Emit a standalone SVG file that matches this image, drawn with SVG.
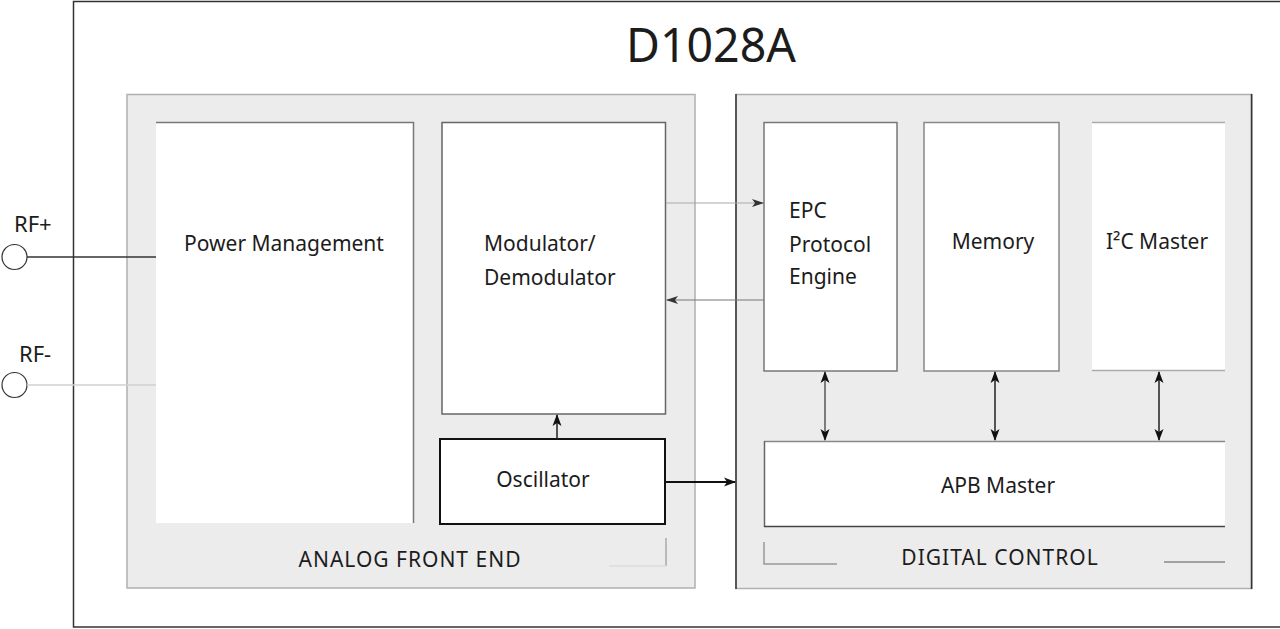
<svg xmlns="http://www.w3.org/2000/svg" width="1280" height="629" viewBox="0 0 1280 629">
<style>
.t{font-family:"Noto Sans","Open Sans","DejaVu Sans",sans-serif;fill:#1c1c1c;font-size:21px}
.c{text-anchor:middle}
.grp{fill:#ececec;stroke:#b0b0b0;stroke-width:1.5}
.blk{fill:#ffffff}
.wire{fill:none}
</style>
<defs>
<marker id="ah" markerWidth="12" markerHeight="12" refX="11" refY="6" orient="auto-start-reverse" markerUnits="userSpaceOnUse">
<path d="M0,1.5 L12,6 L0,10.5 L3,6 Z" fill="#111"/>
</marker>
<marker id="ahg" markerWidth="12" markerHeight="12" refX="11" refY="6" orient="auto" markerUnits="userSpaceOnUse">
<path d="M0,2 L12,6 L0,10 L3,6 Z" fill="#333"/>
</marker>
</defs>
<rect width="1280" height="629" fill="#ffffff"/>

<g id="chip">
<rect x="73.5" y="1.5" width="1212" height="625.5" fill="none" stroke="#333" stroke-width="1.5"/>
<text class="t c" x="711" y="62" style="font-size:48px" textLength="170" lengthAdjust="spacingAndGlyphs">D1028A</text>
</g>

<g id="analog-front-end">
<rect class="grp" x="127" y="94.5" width="568" height="493.5"/>
<line x1="666" y1="538" x2="666" y2="566" stroke="#aaa" stroke-width="1.5"/>
<line x1="609" y1="566" x2="666" y2="566" stroke="#ddd" stroke-width="1.5"/>
<text class="t c" x="410" y="567" style="letter-spacing:1px">ANALOG FRONT END</text>
</g>

<g id="digital-control">
<rect class="grp" x="736" y="94.5" width="516" height="494"/>
<line x1="736" y1="94" x2="736" y2="589" stroke="#333" stroke-width="1.5"/>
<line x1="1251.5" y1="94" x2="1251.5" y2="589" stroke="#333" stroke-width="1.5"/>
<polyline points="764,542 764,564 837,564" fill="none" stroke="#999" stroke-width="1.5"/>
<line x1="1164" y1="562" x2="1225" y2="562" stroke="#888" stroke-width="1.5"/>
<text class="t c" x="1000" y="565" style="letter-spacing:1px">DIGITAL CONTROL</text>
</g>

<g id="power-management">
<rect class="blk" x="156" y="122" width="258" height="401"/>
<polyline points="156,122.5 413.5,122.5 413.5,523" fill="none" stroke="#777" stroke-width="1.5"/>
<text class="t c" x="284" y="251">Power Management</text>
</g>

<g id="modulator">
<rect class="blk" x="442" y="122.5" width="223.5" height="291.5" stroke="#666" stroke-width="1.5"/>
<text class="t" x="484" y="251">Modulator/</text>
<text class="t" x="484" y="285">Demodulator</text>
</g>

<g id="oscillator">
<rect class="blk" x="440" y="439" width="225" height="85" stroke="#111" stroke-width="2"/>
<text class="t c" x="543" y="487">Oscillator</text>
</g>

<g id="epc">
<rect class="blk" x="764" y="122.5" width="133" height="248.5" stroke="#777" stroke-width="1.5"/>
<text class="t" x="789" y="218">EPC</text>
<text class="t" x="789" y="252">Protocol</text>
<text class="t" x="789" y="284">Engine</text>
</g>

<g id="memory">
<rect class="blk" x="924" y="122.5" width="135" height="248.5" stroke="#888" stroke-width="1.5"/>
<text class="t c" x="993" y="249">Memory</text>
</g>

<g id="i2c-master">
<rect class="blk" x="1092" y="122" width="133" height="249"/>
<line x1="1092" y1="122.5" x2="1225" y2="122.5" stroke="#aaa" stroke-width="1.5"/>
<line x1="1092" y1="370.5" x2="1225" y2="370.5" stroke="#aaa" stroke-width="1.5"/>
<text class="t c" x="1157" y="249">I²C Master</text>
</g>

<g id="apb-master">
<rect class="blk" x="764" y="441" width="461" height="86"/>
<line x1="764" y1="441.5" x2="1225" y2="441.5" stroke="#888" stroke-width="1.5"/>
<line x1="764.5" y1="441" x2="764.5" y2="527" stroke="#666" stroke-width="1.5"/>
<line x1="764" y1="526.5" x2="1225" y2="526.5" stroke="#444" stroke-width="1.5"/>
<text class="t c" x="998" y="493">APB Master</text>
</g>

<g id="rf-plus">
<circle cx="14.5" cy="257" r="12.5" fill="#fff" stroke="#333" stroke-width="1.2"/>
<text class="t" x="14" y="232" style="font-size:22px">RF+</text>
</g>

<g id="rf-minus">
<circle cx="14.5" cy="385" r="12.5" fill="#fff" stroke="#333" stroke-width="1.2"/>
<text class="t" x="19" y="362" style="font-size:22px">RF-</text>
</g>

<g id="connectors" class="wire">
<line x1="27" y1="257" x2="156" y2="257" stroke="#333" stroke-width="1.5"/>
<line x1="27" y1="385" x2="156" y2="385" stroke="#d0d0d0" stroke-width="1.5"/>
<line x1="666" y1="203" x2="763" y2="203" stroke="#aaa" stroke-width="1.2" marker-end="url(#ahg)"/>
<line x1="764" y1="300" x2="667" y2="300" stroke="#777" stroke-width="1.2" marker-end="url(#ahg)"/>
<line x1="557" y1="439" x2="557" y2="415" stroke="#222" stroke-width="1.5" marker-end="url(#ah)"/>
<line x1="665" y1="482" x2="735" y2="482" stroke="#111" stroke-width="2" marker-end="url(#ah)"/>
<line x1="825" y1="372" x2="825" y2="440" stroke="#333" stroke-width="1.2" marker-start="url(#ah)" marker-end="url(#ah)"/>
<line x1="995" y1="372" x2="995" y2="440" stroke="#222" stroke-width="1.5" marker-start="url(#ah)" marker-end="url(#ah)"/>
<line x1="1159" y1="372" x2="1159" y2="440" stroke="#222" stroke-width="1.5" marker-start="url(#ah)" marker-end="url(#ah)"/>
</g>
</svg>
